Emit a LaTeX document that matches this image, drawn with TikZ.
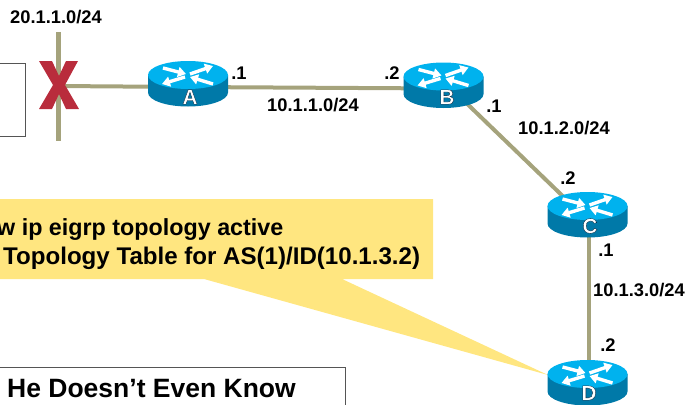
\documentclass[tikz,border=0pt]{standalone}
\usepackage{fontspec}
\setmainfont{Liberation Sans}
\usetikzlibrary{arrows.meta,calc}
\definecolor{linkc}{HTML}{A5A37C}
\definecolor{calloutc}{HTML}{FFE680}
\definecolor{xred}{HTML}{B92C3C}
\definecolor{rtop}{HTML}{00B2EE}
\definecolor{rside}{HTML}{0079A8}
\definecolor{boxc}{HTML}{555555}
\newcommand{\outl}[1]{\special{pdf:literal 2 Tr 0.3 w 0 0.1 0.2 RG 1 1 1 rg}#1\special{pdf:literal 0 Tr}}
\tikzset{
  hub/.style={inner sep=0pt,minimum size=1pt,outer sep=0pt},
  link/.style={draw=linkc,line width=4pt},
  lbl/.style={font=\bfseries\fontsize{18.3}{20}\selectfont,inner sep=0pt,text=black},
  rname/.style={font=\bfseries\fontsize{21}{22}\selectfont,inner sep=0pt,text=white},
  bigt/.style={font=\bfseries\fontsize{24.1}{26}\selectfont,inner sep=0pt,text=black,anchor=base west},
  rarrow/.style={draw=white,line width=3.4pt,-{Triangle[length=8pt,width=10pt]}},
  routerpic/.pic={
    \fill[rside] (-40,-12) -- (-40,5.5) arc[start angle=180,end angle=0,x radius=40,y radius=14] -- (40,-12) -- cycle;
    \fill[rtop] (0,-12) ellipse[x radius=40,y radius=14];
    \draw[rarrow] (-25,-19) -- (-2,-13);
    \draw[rarrow] (2,-13) -- (25,-21);
    \draw[rarrow] (-3,-10) -- (-26,-3);
    \draw[rarrow] (25,-3) -- (2,-10);
  }
}
\begin{document}
\begin{tikzpicture}[x=1pt,y=-1pt]
\useasboundingbox (0,0) rectangle (687,404);
% router anchors
\node[hub] (A) at (188,87) {};
\node[hub] (B) at (443.5,88.5) {};
\node[hub] (C) at (587.5,218) {};
\node[hub] (D) at (587.5,386) {};
\coordinate (stubT) at (58,32);
\coordinate (stubB) at (58,141);
\coordinate (stubM) at (58,86);
% boxes
\draw[boxc,line width=1pt] (-2,63) -- (25,63) -- (25,136) -- (-2,136);
\draw[boxc,line width=1pt] (-2,367.5) -- (345,367.5) -- (345,406);
% callout
\fill[calloutc] (-2,199) -- (433,199) -- (433,279) -- (342,279) -- (548,375) -- (204,279) -- (-2,279) -- cycle;
% links
\draw[link,line width=5pt] (stubT) -- (stubB);
\draw[link] (stubM) -- (A.center);
\draw[link] (A.center) -- (B.center);
\draw[link] ([shift={(0,-7.5)}]B.center) -- ([shift={(0,2)}]C.center);
\draw[link] ([xshift=1pt]C.center) -- ([xshift=1pt]D.center);
% failure mark
\fill[xred] (39,61) -- (52,61) -- (59,76) -- (66,61) -- (78,61) -- (65,85) -- (79,109) -- (66,109) -- (59,94) -- (52,109) -- (39,109) -- (53,85) -- cycle;
% routers
\pic at (A.center) {routerpic};
\pic at (B.center) {routerpic};
\pic at (C.center) {routerpic};
\pic at (D.center) {routerpic};
\node[rname] (nA) at (190,97) {\outl{A}};
\node[rname] (nB) at (447,97) {\outl{B}};
\node[rname] (nC) at (590,226) {\outl{C}};
\node[rname] (nD) at (589,393) {\outl{D}};
% labels
\node[lbl] (l1) at (56,17) {20.1.1.0/24};
\node[lbl] (l2) at (239,73) {.1};
\node[lbl] (l3) at (392,73) {.2};
\node[lbl] (l4) at (313,105) {10.1.1.0/24};
\node[lbl] (l5) at (494,106) {.1};
\node[lbl] (l6) at (564,128) {10.1.2.0/24};
\node[lbl] (l7) at (568,178) {.2};
\node[lbl] (l8) at (606,250) {.1};
\node[lbl] (l9) at (639,290) {10.1.3.0/24};
\node[lbl] (l10) at (608,345) {.2};
\node[bigt,font=\bfseries\fontsize{23.3}{26}\selectfont] (t1) at (-3,235) {w ip eigrp topology active};
\node[bigt] (t2) at (3,264) {Topology Table for AS(1)/ID(10.1.3.2)};
\node[bigt,font=\bfseries\fontsize{26.5}{28}\selectfont] (t3) at (7,397) {He Doesn’t Even Know};
\end{tikzpicture}
\end{document}
